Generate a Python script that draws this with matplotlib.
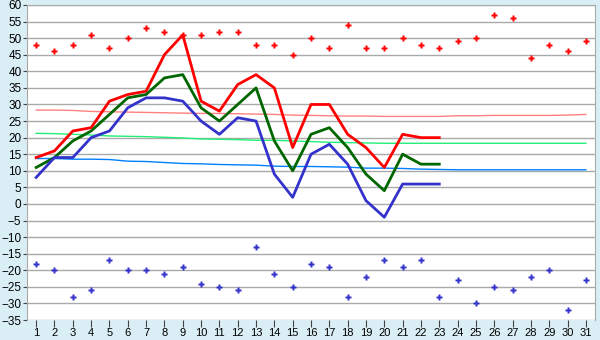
import numpy as np
import matplotlib
matplotlib.use("Agg")
import matplotlib.pyplot as plt

plt.rcParams["font.family"] = ["Liberation Sans", "DejaVu Sans"]

# Days of the month
days = list(range(1, 32))

# Daily records (scatter)
record_max = [48, 46, 48, 51, 47, 50, 53, 52, 51, 51, 52, 52, 48, 48, 45, 50,
              47, 54, 47, 47, 50, 48, 47, 49, 50, 57, 56, 44, 48, 46, 49]
record_min = [-18, -20, -28, -26, -17, -20, -20, -21, -19, -24, -25, -26, -13, -21, -25, -18,
              -19, -28, -22, -17, -19, -17, -28, -23, -30, -25, -26, -22, -20, -32, -23]

# Observed values (days 1-23)
obs_days = list(range(1, 24))
t_max = [14, 16, 22, 23, 31, 33, 34, 45, 51, 31, 28, 36, 39, 35, 17, 30, 30, 21, 17, 11, 21, 20, 20]
t_mean = [11, 14, 19, 22, 27, 32, 33, 38, 39, 29, 25, 30, 35, 19, 10, 21, 23, 17, 9, 4, 15, 12, 12]
t_min = [8, 14, 14, 20, 22, 29, 32, 32, 31, 25, 21, 26, 25, 9, 2, 15, 18, 12, 1, -4, 6, 6, 6]

# Normals
norm_max = [28.3, 28.3, 28.2, 27.9, 27.8, 27.7, 27.6, 27.5, 27.4, 27.3, 27.3, 27.2, 27.1, 27.0, 26.8, 26.7,
            26.6, 26.5, 26.5, 26.4, 26.4, 26.4, 26.4, 26.6, 26.6, 26.7, 26.7, 26.7, 26.7, 26.8, 27.0]
norm_mean = [21.3, 21.2, 21.0, 20.8, 20.5, 20.4, 20.3, 20.1, 19.9, 19.6, 19.5, 19.4, 19.2, 19.2, 19.0, 18.8,
             18.6, 18.5, 18.4, 18.3, 18.3, 18.3, 18.3, 18.3, 18.3, 18.3, 18.3, 18.3, 18.3, 18.3, 18.3]
norm_min = [13.7, 13.7, 13.5, 13.5, 13.4, 12.9, 12.8, 12.5, 12.2, 12.1, 11.9, 11.8, 11.7, 11.4, 11.3, 11.3,
            11.2, 11.1, 10.8, 10.8, 10.7, 10.5, 10.4, 10.3, 10.3, 10.3, 10.3, 10.3, 10.3, 10.3, 10.3]

bg = "#daeef5"
grid_col = "#aaaaaa"

fig = plt.figure(figsize=(6, 3.4), dpi=100, facecolor=bg)
ax = fig.add_axes([0.045, 0.0588, 0.9467, 0.9265])
ax.set_facecolor("white")

ax.plot(days, norm_max, color="#ff8080", lw=1)
ax.plot(days, norm_mean, color="#22ee77", lw=1)
ax.plot(days, norm_min, color="#0080ff", lw=1)

ax.plot(obs_days, t_max, color="#ff0000", lw=2)
ax.plot(obs_days, t_mean, color="#006600", lw=2)
ax.plot(obs_days, t_min, color="#3333cc", lw=2)

ax.plot(days, record_max, ls="none", marker="P", ms=5, color="#ff0000", mec="none")
ax.plot(days, record_min, ls="none", marker="P", ms=5, color="#3333cc", mec="none")

ax.set_xlim(0.5, 31.5)
ax.set_ylim(-35, 60)
ax.set_xticks(days)
ax.set_yticks(np.arange(-35, 61, 5))
ax.yaxis.grid(True, color=grid_col, lw=1)
ax.set_axisbelow(True)

for s in ax.spines.values():
    s.set_color(grid_col)
ax.spines["bottom"].set_visible(False)

ax.tick_params(axis="x", length=5, color="#444444", labelsize=8, pad=1)
ax.tick_params(axis="y", length=3, color="#444444", labelsize=8.5, pad=1)

fig.savefig("out.png", dpi=100, facecolor=bg)
